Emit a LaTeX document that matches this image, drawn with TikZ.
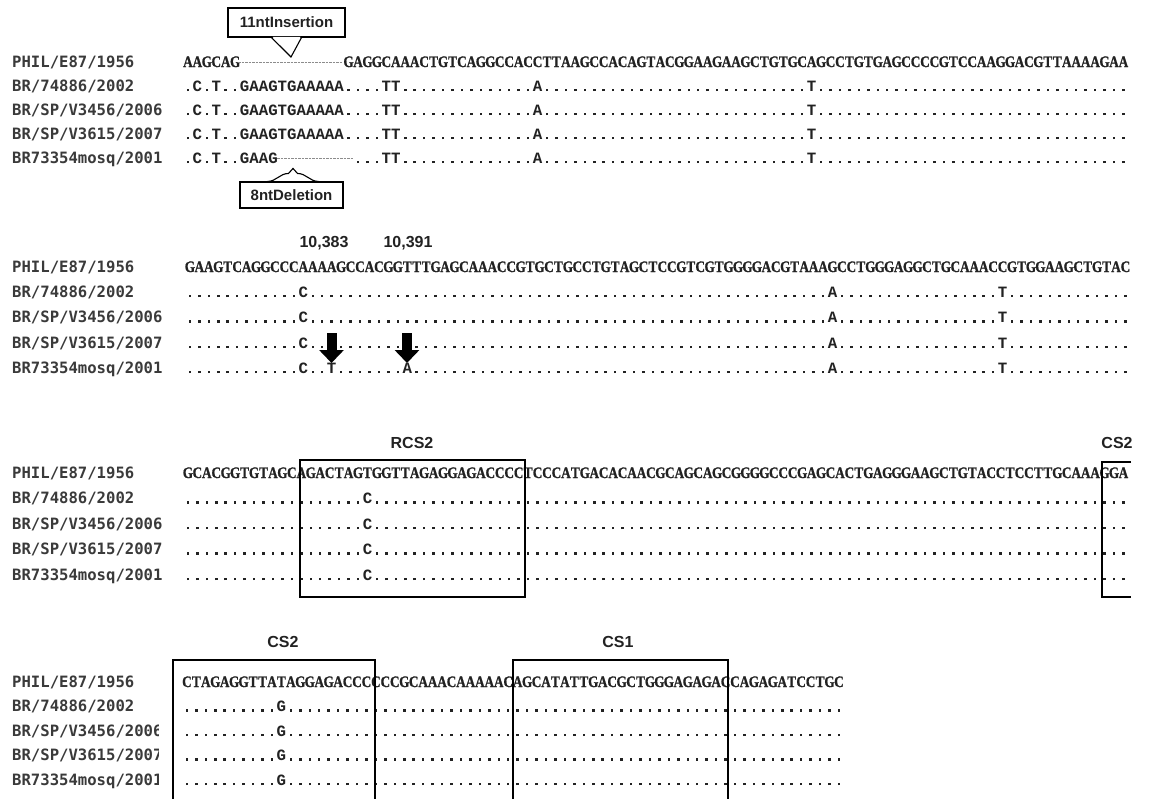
\documentclass[tikz,border=0pt]{standalone}
\usepackage{fontspec}
\usepackage{graphicx}
\usetikzlibrary{arrows.meta}
\setmainfont{Liberation Serif}
\newfontfamily\labfont{DejaVu Sans Mono}
\newfontfamily\seqfont{Liberation Mono}
\newfontfamily\reffont{Liberation Serif Bold}[FakeBold=1.2]
\newfontfamily\headfont{Liberation Sans}
\definecolor{ink}{HTML}{222222}
\definecolor{labink}{HTML}{3A3A3A}
\definecolor{gapgrey}{HTML}{8C8C8C}

% one alignment column
\newlength\pitch
\setlength\pitch{9.45pt}
% typeset a string one column per character
\def\spreadwith#1#2{%
  \ifx#2\relax\else
    \ifx#2-\hbox to\pitch{}\else\hbox to\pitch{\hss#1{#2}\hss}\fi
    \expandafter\spreadwith\expandafter#1%
  \fi}
\newcommand\matchdot{\rule{2.5pt}{2.5pt}}
\newcommand\refglyph[1]{\scalebox{0.82}[1]{#1}}
\newcommand\varglyph[1]{\ifx#1.\matchdot\else#1\fi}
\newcommand\refseq[1]{\spreadwith\refglyph#1\relax}
\newcommand\varseq[1]{\spreadwith\varglyph#1\relax}
\newcommand\dotcells[1]{\foreach\k in {1,...,#1}{\hbox to\pitch{\hss\matchdot\hss}}}
\newcommand\gapcells[1]{\hbox to #1\pitch{}}

\begin{document}
\begin{tikzpicture}[x=1pt,y=-1pt,
  lab/.style={anchor=base west,inner sep=0pt,text=labink,font={\labfont\bfseries\fontsize{15.6}{16}\selectfont}},
  refrow/.style={anchor=base west,inner sep=0pt,text=ink,font={\reffont\fontsize{16}{16}\selectfont}},
  varrow/.style={anchor=base west,inner sep=0pt,text=ink,font={\seqfont\bfseries\fontsize{15.75}{16}\selectfont}},
  head/.style={inner sep=0pt,text=ink,font={\headfont\bfseries\fontsize{16}{16}\selectfont}},
  callout/.style={draw=black,line width=1.1pt,fill=white,inner sep=0pt,text=ink,font={\headfont\bfseries\fontsize{15}{16}\selectfont}},
  region/.style={draw=black,line width=2pt},
  gapline/.style={draw=gapgrey,line width=0.9pt,dash pattern=on 2.5pt off 1pt},
  pointer/.style={draw=black,line width=1.1pt},
  hitarrow/.style={draw=black,line width=10pt,-{Triangle[width=24pt,length=13pt]}},
]
\fill[white] (0,0) rectangle (1151,798);
\useasboundingbox (0,0) rectangle (1151,798);

% ---------- block 1: 11 nt insertion / 8 nt deletion ----------
\node[lab] (l11) at (12,67)  {PHIL/E87/1956};
\node[lab] (l12) at (12,91)  {BR/74886/2002};
\node[lab] (l13) at (12,115) {BR/SP/V3456/2006};
\node[lab] (l14) at (12,139) {BR/SP/V3615/2007};
\node[lab] (l15) at (12,163) {BR73354mosq/2001};

\node[refrow] (s11) at (183,67) {\refseq{AAGCAG}\gapcells{11}\refseq{GAGGCAAACTGTCAGGCCACCTTAAGCCACAGTACGGAAGAAGCTGTGCAGCCTGTGAGCCCCGTCCAAGGACGTTAAAAGAA}};
\node[varrow] (s12) at (183,91)  {\varseq{.C.T..GAAGTGAAAAA....TT}\dotcells{14}\varseq{A}\dotcells{28}\varseq{T}\dotcells{33}};
\node[varrow] (s13) at (183,115) {\varseq{.C.T..GAAGTGAAAAA....TT}\dotcells{14}\varseq{A}\dotcells{28}\varseq{T}\dotcells{33}};
\node[varrow] (s14) at (183,139) {\varseq{.C.T..GAAGTGAAAAA....TT}\dotcells{14}\varseq{A}\dotcells{28}\varseq{T}\dotcells{33}};
\node[varrow] (s15) at (183,163) {\varseq{.C.T..GAAG}\gapcells{8}\varseq{...TT}\dotcells{14}\varseq{A}\dotcells{28}\varseq{T}\dotcells{33}};

\coordinate (g1a) at (238,62);
\coordinate (g1b) at (343,62);
\draw[gapline] (g1a) -- (g1b);
\coordinate (g5a) at (277,158);
\coordinate (g5b) at (353,158);
\draw[gapline] (g5a) -- (g5b);

\node[callout,minimum width=117pt,minimum height=29pt] (ins) at (286.5,22.5) {11ntInsertion};
\coordinate (insTip) at (291,57);
\fill[white] ([xshift=-14pt,yshift=0.8pt]ins.south) -- (insTip) -- ([xshift=14pt,yshift=0.8pt]ins.south) -- cycle;
\draw[pointer] ([xshift=-15pt]ins.south) -- (insTip) -- ([xshift=15pt]ins.south);

\node[callout,minimum width=103pt,minimum height=26pt] (del) at (291.5,195) {8ntDeletion};
\coordinate (delTip) at ([xshift=1.5pt,yshift=13pt]del.north);
\draw[pointer] ([xshift=-24pt]del.north) to[out=0,in=180] ([xshift=-3pt,yshift=8pt]del.north) -- (delTip) -- ([xshift=6pt,yshift=8pt]del.north) to[out=0,in=180] ([xshift=27pt]del.north);

% ---------- block 2: point mutations 10,383 and 10,391 ----------
\node[head] (p383) at (324,243) {10,383};
\node[head] (p391) at (408,243) {10,391};

\node[lab] (l21) at (12,272)   {PHIL/E87/1956};
\node[lab] (l22) at (12,297)   {BR/74886/2002};
\node[lab] (l23) at (12,322.5) {BR/SP/V3456/2006};
\node[lab] (l24) at (12,348)   {BR/SP/V3615/2007};
\node[lab] (l25) at (12,373)   {BR73354mosq/2001};

\node[refrow] (s21) at (185,272) {\refseq{GAAGTCAGGCCCAAAAGCCACGGTTTGAGCAAACCGTGCTGCCTGTAGCTCCGTCGTGGGGACGTAAAGCCTGGGAGGCTGCAAACCGTGGAAGCTGTAC}};
\node[varrow] (s22) at (185,297)   {\dotcells{12}\varseq{C}\dotcells{55}\varseq{A}\dotcells{17}\varseq{T}\dotcells{13}};
\node[varrow] (s23) at (185,322.5) {\dotcells{12}\varseq{C}\dotcells{55}\varseq{A}\dotcells{17}\varseq{T}\dotcells{13}};
\node[varrow] (s24) at (185,348)   {\dotcells{12}\varseq{C}\dotcells{55}\varseq{A}\dotcells{17}\varseq{T}\dotcells{13}};
\node[varrow] (s25) at (185,373)   {\dotcells{12}\varseq{C..T.......A}\dotcells{44}\varseq{A}\dotcells{17}\varseq{T}\dotcells{13}};

\coordinate (m1a) at (331.5,333);
\coordinate (m1b) at (331.5,363);
\coordinate (m2a) at (407,333);
\coordinate (m2b) at (407,363);
\draw[hitarrow] (m1a) -- (m1b);
\draw[hitarrow] (m2a) -- (m2b);

% ---------- block 3: RCS2 and start of CS2 ----------
\node[head] (hrcs) at (412,443) {RCS2};
\node[head] (hcs2a) at (1117,443) {CS2};

\node[lab] (l31) at (12,478)   {PHIL/E87/1956};
\node[lab] (l32) at (12,503.5) {BR/74886/2002};
\node[lab] (l33) at (12,529)   {BR/SP/V3456/2006};
\node[lab] (l34) at (12,554.5) {BR/SP/V3615/2007};
\node[lab] (l35) at (12,580)   {BR73354mosq/2001};

\node[refrow] (s31) at (183,478) {\refseq{GCACGGTGTAGCAGACTAGTGGTTAGAGGAGACCCCTCCCATGACACAACGCAGCAGCGGGGCCCGAGCACTGAGGGAAGCTGTACCTCCTTGCAAAGGA}};
\node[varrow] (s32) at (183,503.5) {\dotcells{19}\varseq{C}\dotcells{80}};
\node[varrow] (s33) at (183,529)   {\dotcells{19}\varseq{C}\dotcells{80}};
\node[varrow] (s34) at (183,554.5) {\dotcells{19}\varseq{C}\dotcells{80}};
\node[varrow] (s35) at (183,580)   {\dotcells{19}\varseq{C}\dotcells{80}};

\draw[region] (300,460) rectangle (525,597);
\draw[region] (1131,462) -- (1102,462) -- (1102,597) -- (1131,597);

% ---------- block 4: CS2 and CS1 ----------
\node[head] (hcs2b) at (283,642) {CS2};
\node[head] (hcs1) at (618,642) {CS1};

\begin{scope}
\clip (0,600) rectangle (158,798);
\node[lab] (l41) at (12,687)   {PHIL/E87/1956};
\node[lab] (l42) at (12,711.5) {BR/74886/2002};
\node[lab] (l43) at (12,736)   {BR/SP/V3456/2006};
\node[lab] (l44) at (12,760.5) {BR/SP/V3615/2007};
\node[lab] (l45) at (12,785)   {BR73354mosq/2001};
\end{scope}

\node[refrow] (s41) at (182,687) {\refseq{CTAGAGGTTATAGGAGACCCCCCGCAAACAAAAACAGCATATTGACGCTGGGAGAGACCAGAGATCCTGC}};
\node[varrow] (s42) at (182,711.5) {\dotcells{10}\varseq{G}\dotcells{59}};
\node[varrow] (s43) at (182,736)   {\dotcells{10}\varseq{G}\dotcells{59}};
\node[varrow] (s44) at (182,760.5) {\dotcells{10}\varseq{G}\dotcells{59}};
\node[varrow] (s45) at (182,785)   {\dotcells{10}\varseq{G}\dotcells{59}};

\draw[region] (173,800) -- (173,660) -- (375,660) -- (375,800);
\draw[region] (513,800) -- (513,660) -- (728,660) -- (728,800);
\end{tikzpicture}
\end{document}
